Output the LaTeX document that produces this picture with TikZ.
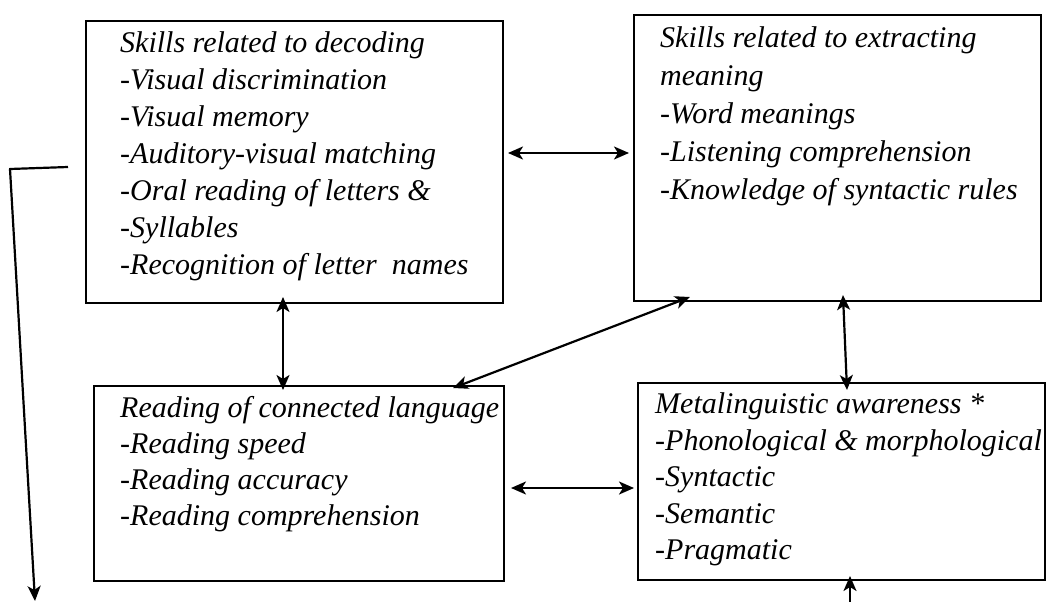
\documentclass[tikz,border=0pt]{standalone}
\usepackage{fontspec}
\setmainfont{Liberation Serif}
\usetikzlibrary{arrows.meta}
\begin{document}
\begin{tikzpicture}[x=1pt,y=-1pt,
  box/.style={draw, line width=2pt, inner sep=0pt, anchor=north west},
  txt/.style={anchor=north west, inner sep=0pt, align=left,
    font=\fontsize{30}{#1}\selectfont\itshape},
  tip/.tip={Stealth[length=15pt,width=13pt,inset=4pt]},
  link/.style={line width=2.2pt, tip-tip},
  oneway/.style={line width=2.2pt, -tip}]
\useasboundingbox (0,0) rectangle (1047,602);
\fill[white] (0,0) rectangle (1047,602);
% boxes
\node[box, minimum width=417pt, minimum height=282pt] (b1) at (85,20) {};
\node[box, minimum width=407pt, minimum height=286pt] (b2) at (633,14) {};
\node[box, minimum width=410pt, minimum height=195pt] (b3) at (93,385) {};
\node[box, minimum width=407pt, minimum height=197pt] (b4) at (637,382) {};
% texts
\node[txt=37] (t1) at (120,31.5) {Skills related to decoding\\-Visual discrimination\\-Visual memory\\-Auditory-visual matching\\-Oral reading of letters \&\\-Syllables\\-Recognition of letter~~names};
\node[txt=38] (t2) at (660,26.5) {Skills related to extracting\\meaning\\-Word meanings\\-Listening comprehension\\-Knowledge of syntactic rules};
\node[txt=36] (t3) at (120,396.5) {Reading of connected language\\-Reading speed\\-Reading accuracy\\-Reading comprehension};
\node[txt=36.5] (t4) at (655,392.5) {Metalinguistic awareness *\\-Phonological \& morphological\\-Syntactic\\-Semantic\\-Pragmatic};
% connectors
\draw[link] ([xshift=4pt]b1.east |- 0,153) -- ([xshift=-4pt]b2.west |- 0,153);
\draw[link] ([xshift=198pt,yshift=7pt]b1.south west) -- ([xshift=190pt,yshift=-5pt]b3.north west);
\draw[link] ([xshift=210pt,yshift=7pt]b2.south west) -- ([xshift=210pt,yshift=-8pt]b4.north west);
\draw[link] ([xshift=57pt,yshift=5pt]b2.south west) -- ([xshift=360pt,yshift=-3pt]b3.north west);
\draw[link] ([xshift=6pt]b3.east |- 0,488) -- ([xshift=-3pt]b4.west |- 0,488);
% left feedback line
\coordinate (l0) at (68,167);
\coordinate (l1) at (10,169);
\coordinate (l2) at (35,601);
\draw[oneway, line join=round] (l0) -- (l1) -- (l2);
% bottom arrow into box 4
\coordinate (m0) at (850,604);
\draw[oneway] (m0) -- ([yshift=5pt]b4.south west -| m0);
\end{tikzpicture}
\end{document}
